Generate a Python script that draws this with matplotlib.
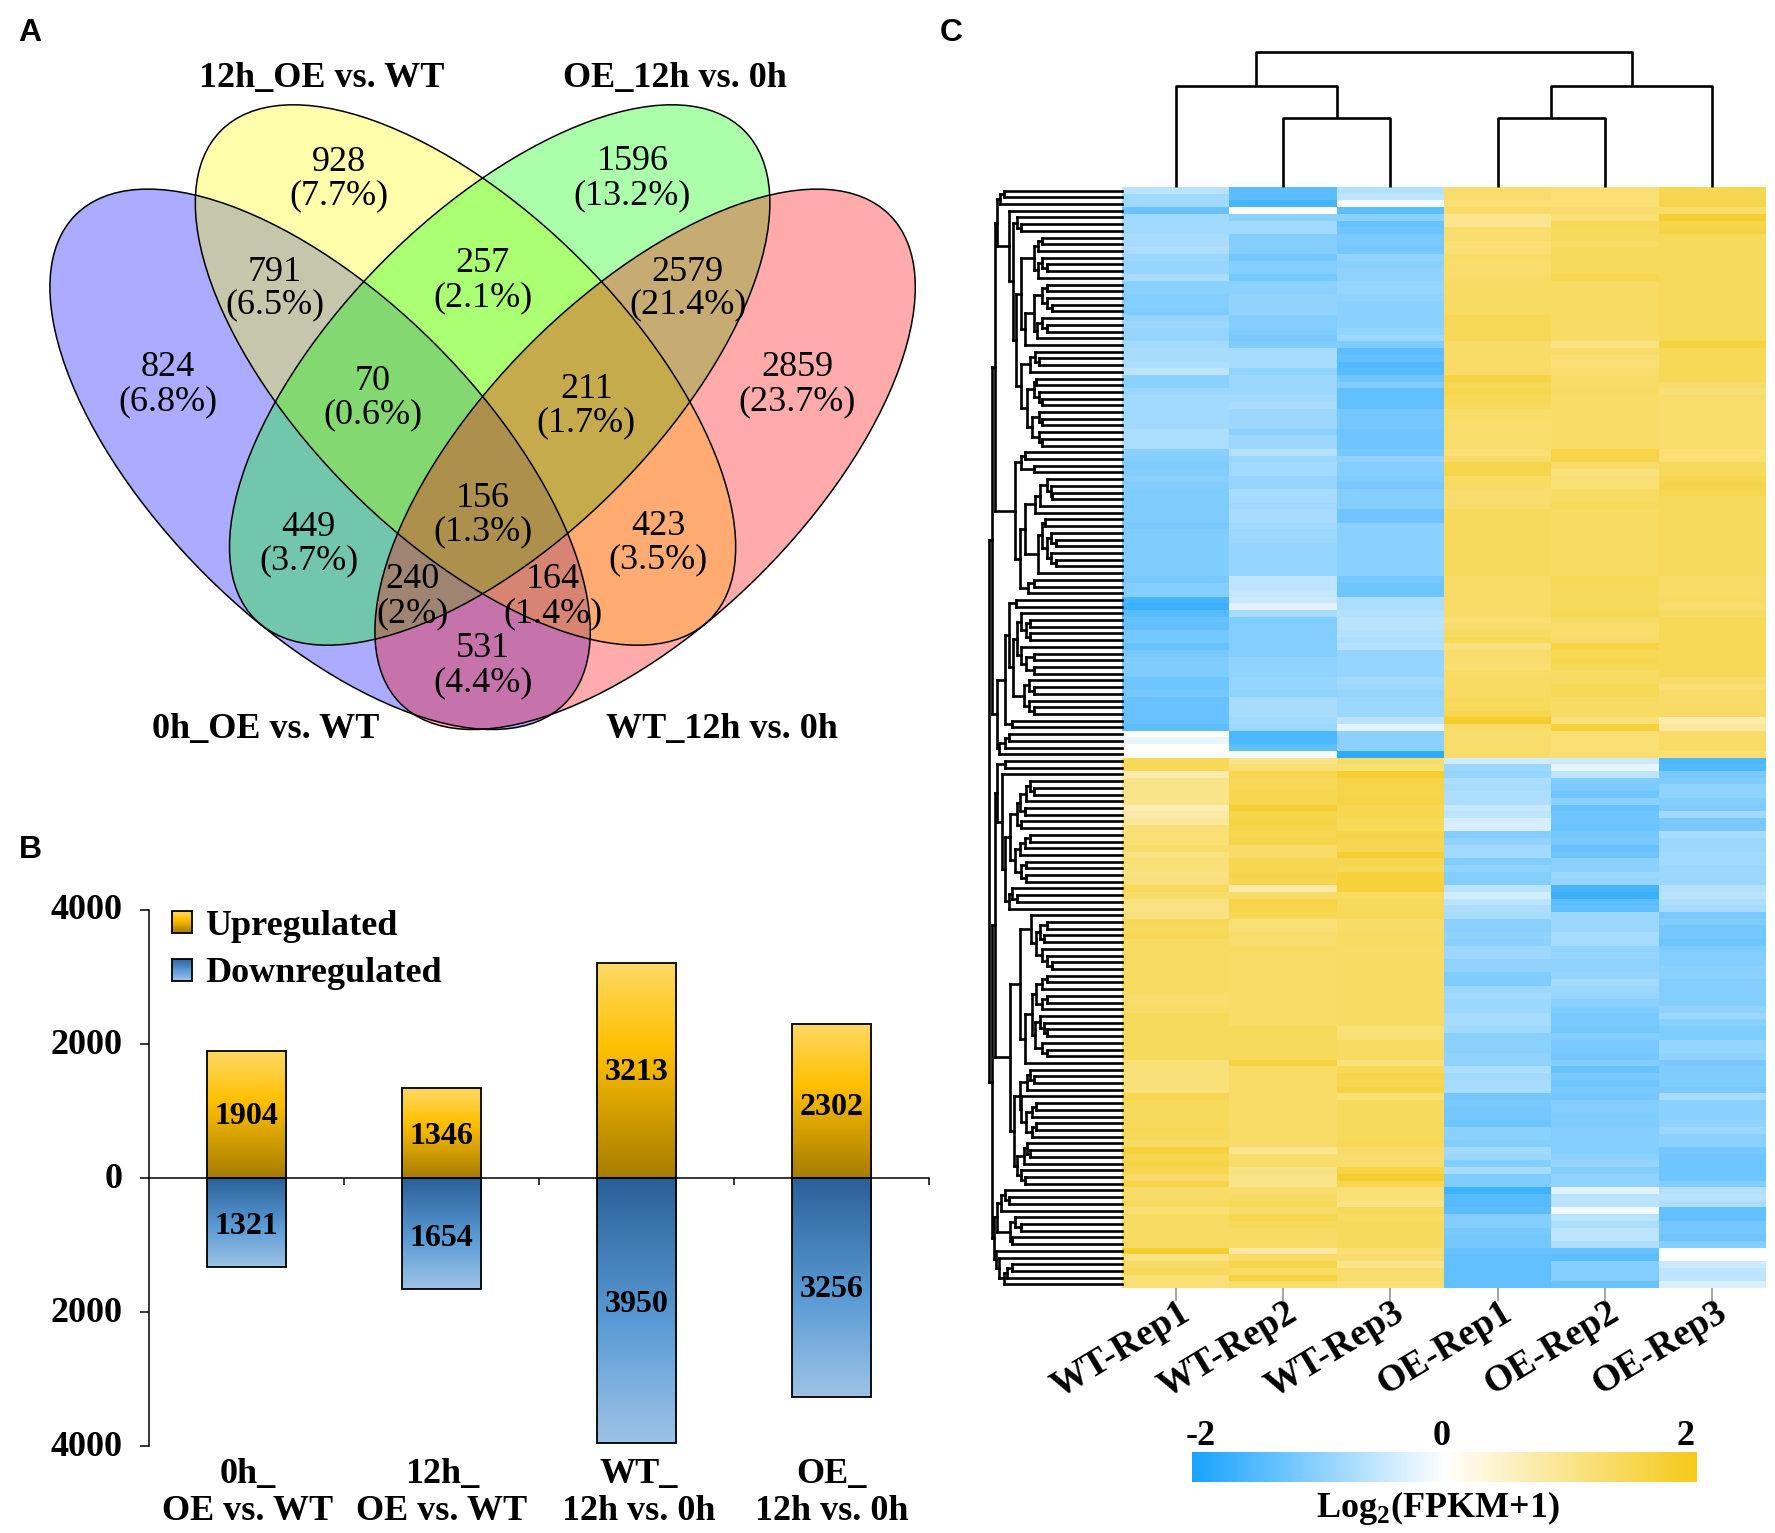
import numpy as np
import matplotlib
matplotlib.use('Agg')
import matplotlib.pyplot as plt
from matplotlib.patches import Ellipse, Rectangle, Patch
from matplotlib.collections import LineCollection
from matplotlib.colors import LinearSegmentedColormap
from matplotlib.legend_handler import HandlerBase
from matplotlib.transforms import ScaledTranslation

W, H = 1775, 1533
SERIF = 'Liberation Serif'
SANS = 'Liberation Sans'
plt.rcParams['font.family'] = [SERIF, 'DejaVu Serif']
plt.rcParams['mathtext.fontset'] = 'custom'
plt.rcParams['mathtext.bf'] = SERIF + ':bold'
plt.rcParams['mathtext.rm'] = SERIF + ':bold'

# ---------- Data ----------
venn_counts = ['928', '1596', '791', '257', '2579', '824', '70', '211', '2859',
               '156', '449', '423', '240', '164', '531']
venn_pcts = ['(7.7%)', '(13.2%)', '(6.5%)', '(2.1%)', '(21.4%)', '(6.8%)', '(0.6%)', '(1.7%)',
             '(23.7%)', '(1.3%)', '(3.7%)', '(3.5%)', '(2%)', '(1.4%)', '(4.4%)']
venn_names = ['12h_OE vs. WT', 'OE_12h vs. 0h', '0h_OE vs. WT', 'WT_12h vs. 0h']

bar_groups = ['0h_\nOE vs. WT', '12h_\nOE vs. WT', 'WT_\n12h vs. 0h', 'OE_\n12h vs. 0h']
upregulated = [1904, 1346, 3213, 2302]
downregulated = [1321, 1654, 3950, 3256]

samples = ['WT-Rep1', 'WT-Rep2', 'WT-Rep3', 'OE-Rep1', 'OE-Rep2', 'OE-Rep3']

wt_rep1 = [
 -.6,-.8,-.8,-1.3,-.8,-.8,-.8,-.75,-.75,-.7,
 -.85,-.9,-.9,-.75,-1,-1,-1.05,-1.05,-1.1,-.9,
 -.85,-.9,-.9,-.8,-.75,-.75,-.7,-.55,-1,-1,
 -.85,-.8,-.8,-.8,-.8,-.8,-.7,-.7,-.7,-1,
 -1.05,
 -1.1,-1.05,-1,-1.05,-1.1,-1.1,-1.1,-1.1,-1.1,-1.15,
 -1.1,-1.1,-1.1,-1.1,-1.1,-1.1,-1.1,-1.15,-1.05,-1.05,
 -1.6,-1.7,-1.45,-1.3,-1.35,-1.2,-1.2,-1.3,-1.15,-1.1,
 -1.1,-1.1,-1.25,-1.25,-1.2,-1.3,-1.3,-1.3,-1.3,-1.4,
 0,-.2,.02,.02,
 1.45,1.45,.7,1,1,1,1,.65,.75,.85,
 1.15,1.2,1.2,1.25,1.05,1.2,1.15,1.05,1.1,1.45,
 1.25,1.1,1.05,1.1,1.45,1.4,1.45,1.35,1.35,1.35,
 1.35,1.35,1.35,1.35,1.35,1.25,1.25,1.3,1.4,1.4,
 1.4,1.4,1.4,1.4,1.4,1.15,1.15,1.15,1.15,1.15,
 1.5,1.4,1.4,1.4,1.4,1.45,1.4,1.35,1.7,1.5,
 1.55,1.5,1.3,1.55,1.3,1.3,1.4,1.2,1.35,1.35,
 1.35,1.35,1.35,1.8,1.05,1.35,1.4,1.15,1.2]
wt_rep2 = [
 -1.4,-1.4,-1.6,.05,-1,-.8,-.8,-1.05,-1.05,-1.05,
 -1.2,-1.05,-1.05,-1.2,-1,-1,-.95,-.95,-.95,-1.05,
 -1.05,-1.1,-1.15,-1.1,-.75,-.75,-.75,-.95,-.85,-.85,
 -.85,-.8,-.75,-.85,-.85,-.85,-1,-.85,-.85,-.65,
 -.85,
 -.8,-.8,-.9,-.9,-.75,-.75,-.8,-.75,-.75,-.8,
 -.85,-.85,-.9,-.9,-.9,-.9,-.9,-.55,-.55,-.5,
 -.45,-.25,-.75,-1.1,-1.05,-1.05,-1.05,-1.05,-1.05,-.95,
 -.95,-.95,-.9,-.9,-.95,-.75,-.75,-.75,-.8,-.85,
 -1.55,-1.55,-1.35,-.05,
 1,1.2,1.5,1.45,1.45,1.5,1.5,1.75,1.55,1.6,
 1.55,1.5,1.55,1.3,1.3,1.5,1.5,1.55,1.5,.75,
 1.3,1.6,1.55,1.45,1.2,1.2,1.25,1.25,1.35,1.3,
 1.3,1.3,1.3,1.3,1.3,1.3,1.3,1.3,1.3,1.3,
 1.4,1.4,1.4,1.4,1.4,1.65,1.3,1.3,1.3,1.3,
 1.3,1.3,1.3,1.3,1.3,1.3,1.3,1.3,.95,1.25,
 1.3,1.05,1,1,1.25,1.35,1.45,1.3,1.5,1.4,
 1.35,1.35,1.3,.8,1.3,1.55,1.35,1.65,1.25]
wt_rep3 = [
 -.65,-.55,-.05,-1.4,-1,-1.3,-1.25,-1.15,-1.15,-1.2,
 -.95,-1,-.95,-.95,-.9,-.9,-.95,-1,-1,-1,
 -1,-.95,-.85,-1.1,-1.4,-1.35,-1.5,-1.45,-1.25,-1.1,
 -1.35,-1.35,-1.35,-1.2,-1.2,-1.2,-1.25,-1.25,-1.25,-1.2,
 -.95,
 -1.05,-1.05,-1.1,-1.15,-1.05,-1.05,-1.05,-1.25,-1.25,-1,
 -1,-1,-1,-1,-1,-1,-1,-1.2,-1.25,-1.25,
 -.7,-.7,-.65,-.6,-.6,-.65,-.7,-.65,-.9,-.9,
 -.9,-.9,-.8,-.85,-.9,-.85,-.85,-.85,-.6,-.25,
 -1,-1,-1,-1.8,
 1.3,1.2,1.75,1.55,1.55,1.55,1.6,1.5,1.5,1.45,
 1.45,1.55,1.5,1.5,1.75,1.5,1.45,1.7,1.7,1.7,
 1.35,1.4,1.4,1.45,1.3,1.3,1.35,1.35,1.3,1.35,
 1.35,1.35,1.35,1.35,1.35,1.35,1.35,1.35,1.35,1.35,
 1.15,1.2,1.35,1.35,1.35,1.1,1.45,1.55,1.5,1.6,
 1.2,1.4,1.4,1.4,1.4,1.4,1.4,1.45,1.3,1.25,
 1.25,1.6,1.8,1.5,1.2,1.2,1,1.4,1.35,1.4,
 1.4,1.4,1.4,1.2,1.25,1,1.25,1.25,1.2]
oe_rep1 = [
 1.25,1.25,1.15,1.3,.95,.95,1.25,1.25,1.2,1.2,
 1.3,1.25,1.25,1.3,1.35,1.35,1.35,1.35,1.35,1.45,
 1.45,1.45,1.45,1.3,1.3,1.3,1.3,1.3,1.6,1.45,
 1.5,1.45,1.4,1.3,1.3,1.25,1.25,1.25,1.25,1.2,
 1.3,
 1.55,1.55,1.35,1.35,1.25,1.25,1.25,1.4,1.4,1.4,
 1.4,1.4,1.4,1.4,1.4,1.4,1.4,1.3,1.3,1.3,
 1.3,1.3,1.3,1.2,1.25,1.35,1.45,1.1,1.25,1.25,
 1.2,1.3,1.35,1.35,1.35,1.4,1.4,1.5,1.8,1.3,
 1.25,1.25,1.25,1.25,
 -.4,-.85,-.9,-.7,-.75,-.7,-.7,-.5,-.55,-.35,
 -.35,-1.05,-.95,-.8,-.8,-1.1,-.95,-1.05,-1.05,-.6,
 -.4,-.6,-.7,-.75,-1,-1,-.95,-1,-.85,-.85,
 -.95,-.95,-1.1,-1.1,-.85,-.8,-.85,-.85,-.75,-.75,
 -.8,-1,-1,-1,-.95,-.95,-.7,-.8,-.75,-.75,
 -1.2,-1.15,-1.2,-1.2,-1.25,-1,-1,-1.05,-.8,-.85,
 -1.05,-.75,-1.1,-1.1,-1.65,-1.45,-1.45,-1.4,-1.05,-1.05,
 -1.15,-1.2,-1.2,-1.3,-1.35,-1.35,-1.35,-1.35,-1.35]
oe_rep2 = [
 1.2,1.2,1.2,1.25,1.2,1.45,1.4,1.4,1.3,1.4,
 1.4,1.4,1.4,1.5,1.35,1.35,1.35,1.35,1.35,1.35,
 1.35,1.35,1.3,1.05,1.3,1.2,1.2,1.25,1.3,1.3,
 1.35,1.3,1.3,1.3,1.3,1.3,1.3,1.3,1.3,1.6,
 1.55,
 1.3,1.1,1.2,1.2,1.35,1.35,1.4,1.35,1.35,1.35,
 1.35,1.35,1.35,1.35,1.35,1.35,1.35,1.45,1.4,1.4,
 1.4,1.4,1.45,1.35,1.25,1.25,1.3,1.6,1.45,1.5,
 1.45,1.35,1.35,1.45,1.45,1.35,1.35,1.3,1.15,1.7,
 1.2,1.2,1.2,1.2,
 -.45,-.2,-.55,-1.1,-1.15,-1.25,-1,-1.3,-1.25,-1.25,
 -1.3,-1.2,-1.15,-1.3,-1.25,-1,-1,-.85,-.9,-1.6,
 -1.7,-1.4,-1.35,-.85,-.85,-.85,-.75,-.75,-.95,-.9,
 -.95,-.95,-.9,-.8,-.85,-.9,-1,-1.1,-1.15,-1.15,
 -1.2,-1.05,-1.15,-1.15,-1.2,-1.05,-1.3,-1.15,-1.25,-1.15,
 -1.2,-1.05,-1.05,-1.1,-1.1,-1.05,-1.05,-1.05,-1.05,-1,
 -.9,-1.05,-.95,-.95,-.25,-.6,-.6,-.1,-.6,-.7,
 -.55,-.55,-.7,-1.3,-1.4,-1.05,-1.05,-1.05,-1.3]
oe_rep3 = [
 1.5,1.5,1.55,1.25,1.75,1.55,1.6,1.4,1.4,1.4,
 1.4,1.4,1.4,1.4,1.4,1.4,1.4,1.4,1.4,1.4,
 1.4,1.4,1.4,1.65,1.45,1.45,1.45,1.45,1.45,1.25,
 1.2,1.25,1.25,1.25,1.25,1.25,1.25,1.25,1.25,1.2,
 1.2,
 1.4,1.4,1.5,1.55,1.5,1.4,1.4,1.4,1.4,1.4,
 1.4,1.4,1.4,1.4,1.4,1.4,1.4,1.3,1.3,1.3,
 1.35,1.25,1.35,1.45,1.45,1.45,1.45,1.45,1.45,1.45,
 1.45,1.45,1.3,1.2,1.3,1.3,1.35,1.35,.7,.85,
 1.3,1.3,1.3,1.2,
 -1.55,-1.5,-1.15,-1.1,-.95,-.95,-1.05,-1.1,-.8,-1.15,
 -1.15,-.75,-.85,-.85,-.8,-.8,-.85,-.85,-.85,-.65,
 -.6,-.7,-.75,-1.15,-1.1,-1.2,-1.2,-1.25,-1.1,-1.05,
 -1.05,-1,-1,-1.05,-1.05,-1.05,-1.05,-.95,-.85,-1,
 -1.1,-1.1,-.9,-.9,-.95,-1.15,-1.1,-1.1,-1.1,-1.15,
 -.75,-1,-1,-1,-.95,-.85,-1,-1,-1.2,-1.25,
 -1.25,-1.25,-1.25,-1.05,-.65,-.6,-.7,-1.35,-1.35,-1.2,
 -1.2,-1.25,-1.05,.03,.03,-.45,-.55,-.55,-.3]

# Row dendrogram: [merge depth, child, child]; 0 is a leaf (one heatmap row)
g1 = [20, [28, 0, 0], 0]
b1 = [88, [97, [105, 0, 0], 0], [97, [105, 0, [115, 0, 0]], 0]]
b2 = [70, [88, [105, [115, 0, 0], [115, 0, [125, 0, 0]]], [95, [105, 0, [115, 0, 0]], 0]], 0]
d1 = [62, [80, [90, 0, [98, 0, 0]], 0],
      [75, [88, [92, 0, 0], [98, 0, [105, 0, 0]]], [85, [98, 0, [105, 0, 0]], [98, 0, [105, 0, 0]]]]]
g3 = [52, [62, b1, b2], d1]
g2 = [38, 0, [47, [55, 0, [62, 0, 0]], g3]]
x1 = [14, g1, g2]
h1 = [62, [70, 0, 0], [88, 0, 0]]
i1 = [100, [115, 0, [122, 0, [125, 0, 0]]], 0]
j1 = [90, i1, 0]
k1 = [97, [105, [110, 0, 0], [115, [122, 0, [132, 0, 0]], [122, 0, [132, 0, 0]]]], 0]
l1 = [70, j1, k1]
m1 = [76, [88, 0, 0], 0]
y1 = [50, h1, [60, l1, m1]]
s1 = [62, 0, [72, [80, 0, 0], [80, 0, 0]]]
s2 = [62, 0, [72, [88, 0, 0], [88, 0, 0]]]
s3 = [68, [78, 0, [88, 0, 0]], [78, 0, [88, 0, 0]]]
t1 = [47, [55, s1, s2], s3]
u1 = [38, [52, 0, 0], t1]
v1 = [30, u1, [45, 0, 0]]
w1 = [18, [30, [38, 0, 0], 0], 0]
upper_tree = [4, [10, x1, y1], [14, v1, w1]]

a1 = [72, [80, 0, [88, 0, 0]], 0]
e1 = [55, [60, a1, [70, 0, 0]], [62, 0, 0]]
b3 = [60, [70, [80, 0, 0], 0], 0]
c3 = [62, [72, 0, 0], [72, 0, 0]]
e2 = [40, e1, [50, b3, c3]]
f3 = [38, [45, 0, [55, 0, 0]], 0]
h3 = [25, 0, [30, e2, f3]]
i3 = [15, [30, 0, 0], h3]
k3 = [100, [115, 0, 0], [108, 0, 0]]
k4 = [105, 0, [115, 0, [125, 0, 0]]]
m3 = [82, 0, [92, k3, k4]]
p3 = [92, [105, [115, 0, 0], 0], [105, [115, 0, 0], 0]]
s4 = [90, [100, 0, [108, 0, [115, 0, 0]]], [105, 0, [115, 0, 0]]]
t3 = [70, [85, p3, s4], 0]
u3 = [75, [80, 0, [88, 0, 0]], 0]
v3 = [62, 0, [72, [85, [92, 0, 0], 0], [85, [92, 0, 0], 0]]]
y3 = [55, [68, [75, 0, [80, 0, 0]], 0], [62, 0, [70, 0, 0]]]
z3 = [48, [60, u3, v3], y3]
aa = [40, [60, m3, t3], z3]
bb = [22, [30, 0, [38, 0, 0]], 0]
cc = [40, [50, 0, [62, 0, 0]], [45, 0, 0]]
ee = [12, 0, [18, 0, [28, [35, [45, 0, 0], 0], 0]]]
lower_tree = [4, [10, i3, aa], [8, [15, bb, cc], ee]]
row_tree = [-2, upper_tree, lower_tree]

# Column dendrogram: heights above the heatmap
col_merge_heights = [135, 101, 69]

# ---------- Helpers ----------
def px_axes(x0, y0, x1, y1, **kw):
    return fig.add_axes([x0 / W, 1 - y1 / H, (x1 - x0) / W, (y1 - y0) / H], **kw)

fig = plt.figure(figsize=(W / 100, H / 100), dpi=100, facecolor='white')

canvas = px_axes(0, 0, W, H)
canvas.set_xlim(0, W)
canvas.set_ylim(H, 0)
canvas.axis('off')

# ---------- Panel letters ----------
for letter, lx, ly in [('A', 30, 33), ('B', 30, 850), ('C', 951, 33)]:
    canvas.text(lx, ly, letter, family=SANS, weight='bold', fontsize=23, ha='center', va='center')

# ---------- Panel A: Venn ----------
ell_a, ell_b = 2 * 345.7, 2 * 162.8
ell_specs = [((320.1, 459.3), 45, '#0000FF'),
             ((465.5, 375.0), 45, '#FFFF00'),
             ((499.7, 375.0), -45, '#00FF00'),
             ((645.1, 459.3), -45, '#FF0000')]
for c, ang, col in ell_specs:
    canvas.add_patch(Ellipse(c, ell_a, ell_b, angle=ang, facecolor=col, alpha=0.33, edgecolor='none'))
for c, ang, col in ell_specs:
    canvas.add_patch(Ellipse(c, ell_a, ell_b, angle=ang, facecolor='none', edgecolor='black', lw=1.1))

zx, zy = 1.668, 2.063
venn_xy = [(565, 330, 398), (1055, 328, 398), (458, 555, 622), (805, 538, 608), (1147, 555, 622),
           (280, 752, 822), (622, 780, 850), (978, 797, 867), (1330, 752, 822), (805, 1022, 1092),
           (515, 1082, 1150), (1098, 1080, 1148), (688, 1190, 1260), (922, 1190, 1260), (805, 1332, 1402)]
for n, p, (x, y1_, y2_) in zip(venn_counts, venn_pcts, venn_xy):
    canvas.text(x / zx, y1_ / zy + 3, n, fontsize=26, ha='center', va='center')
    canvas.text(x / zx, y2_ / zy + 3, p, fontsize=26, ha='center', va='center')
for name, (x, y) in zip(venn_names, [(537, 157), (1125, 157), (443, 1500), (1205, 1500)]):
    canvas.text(x / zx, y / zy + 2, name, fontsize=26, weight='bold', ha='center', va='center')

# ---------- Panel B: bars ----------
axb = px_axes(148.5, 910, 929, 1446.4)
axb.patch.set_alpha(0)
xs = np.arange(4) + 0.5
bar_w = 0.405
up_cmap = LinearSegmentedColormap.from_list('up', [(0, '#FFD966'), (0.4, '#FFC000'), (1, '#A67C00')])
dn_cmap = LinearSegmentedColormap.from_list('dn', [(0, '#2A6099'), (0.55, '#5B9BD5'), (1, '#9DC3E6')])
grad = np.linspace(0, 1, 256).reshape(-1, 1)
for x, u, d in zip(xs, upregulated, downregulated):
    axb.imshow(grad, cmap=up_cmap, extent=(x - bar_w / 2, x + bar_w / 2, 0, u), aspect='auto', zorder=1)
    axb.imshow(grad, cmap=dn_cmap, extent=(x - bar_w / 2, x + bar_w / 2, -d, 0), aspect='auto', zorder=1)
axb.bar(xs, upregulated, bar_w, facecolor='none', edgecolor='black', lw=1.3, zorder=2)
axb.bar(xs, [-v for v in downregulated], bar_w, facecolor='none', edgecolor='black', lw=1.3, zorder=2)
up_label_y = [925, 620, 1576, 1047]
dn_label_y = [717, 893, 1884, 1653]
for x, u, ly in zip(xs, upregulated, up_label_y):
    axb.text(x, ly, str(u), fontsize=23, weight='bold', ha='center', va='center', zorder=3)
for x, d, ly in zip(xs, downregulated, dn_label_y):
    axb.text(x, -ly, str(d), fontsize=23, weight='bold', ha='center', va='center', zorder=3)
axb.set_xlim(0, 4)
axb.set_ylim(-4000, 4000)
for s in ['top', 'right']:
    axb.spines[s].set_visible(False)
axb.spines['bottom'].set_position(('data', 0))
axb.spines['bottom'].set_zorder(4)
axb.spines['left'].set_linewidth(1.1)
axb.spines['bottom'].set_linewidth(1.1)
axb.set_yticks([-4000, -2000, 0, 2000, 4000])
axb.set_yticklabels(['4000', '2000', '0', '2000', '4000'], fontsize=26, weight='bold')
axb.tick_params(axis='y', length=6.5, width=1.1, pad=12)
for lbl in axb.get_yticklabels():
    lbl.set_transform(lbl.get_transform() + ScaledTranslation(0, 2.2 / 72, fig.dpi_scale_trans))
axb.set_xticks([1, 2, 3, 4])
axb.set_xticklabels([])
axb.tick_params(axis='x', length=5, width=1.1, direction='out')
for x, lab in zip([0.51, 1.504, 2.514, 3.50], bar_groups):
    top, bottom = lab.split('\n')
    canvas_x = 148.5 + x * (929 - 148.5) / 4
    canvas.text(canvas_x, 1475, top, fontsize=26, weight='bold', ha='center', va='center')
    canvas.text(canvas_x, 1512, bottom, fontsize=26, weight='bold', ha='center', va='center')

class GradientHandler(HandlerBase):
    def __init__(self, cmap):
        super().__init__()
        self.cmap = cmap
    def create_artists(self, legend, orig, xd, yd, width, height, fontsize, trans):
        arts = []
        n = 24
        for i in range(n):
            arts.append(Rectangle((-xd, -yd + height * (1 - (i + 1) / n)), width, height / n + 0.2,
                                  facecolor=self.cmap((i + .5) / n), edgecolor='none', transform=trans))
        arts.append(Rectangle((-xd, -yd), width, height, facecolor='none', edgecolor='black', lw=1.3, transform=trans))
        return arts

h_up = Patch(facecolor='#FFC000', edgecolor='black', label='Upregulated')
h_dn = Patch(facecolor='#5B9BD5', edgecolor='black', label='Downregulated')
leg = axb.legend(handles=[h_up, h_dn], handler_map={h_up: GradientHandler(up_cmap), h_dn: GradientHandler(dn_cmap)},
                 loc='upper left', bbox_to_anchor=(172 / W, 1 - 910 / H), bbox_transform=fig.transFigure,
                 frameon=False, borderpad=0, borderaxespad=0, handlelength=0.55, handleheight=0.55,
                 handletextpad=0.38, labelspacing=0.40, prop={'family': SERIF, 'weight': 'bold', 'size': 26})

# ---------- Panel C: heatmap ----------
hm_x0, hm_x1, hm_y0, hm_y1 = 1122.2, 1766, 187.3, 1287.7
matrix = np.array([wt_rep1, wt_rep2, wt_rep3, oe_rep1, oe_rep2, oe_rep3]).T
n_rows, n_cols = matrix.shape
heat_cmap = LinearSegmentedColormap.from_list('heat', ['#18A3FF', '#FFFFFF', '#F5CA18'])
axh = px_axes(hm_x0, hm_y0, hm_x1, hm_y1)
axh.imshow(matrix, cmap=heat_cmap, vmin=-2, vmax=2, aspect='auto', interpolation='nearest')
for s in axh.spines.values():
    s.set_visible(False)
axh.set_yticks([])
axh.set_xticks(range(n_cols))
axh.set_xticklabels([])
axh.tick_params(axis='x', length=9, width=1.1, color='#8a8a8a')
col_w = (hm_x1 - hm_x0) / n_cols
centers = [hm_x0 + (i + .5) * col_w for i in range(n_cols)]
for c, s in zip(centers, samples):
    canvas.text(c + 2, 1295, s, fontsize=27, weight='bold', rotation=31,
                ha='right', va='top', rotation_mode='anchor')

# row dendrogram
segs = []
row_h = (hm_y1 - hm_y0) / n_rows
counter = [0]
def tx(v):
    return 990 + v / 2.01
def walk(node):
    if node == 0:
        y = hm_y0 + (counter[0] + .5) * row_h
        counter[0] += 1
        return hm_x0, y
    x = tx(node[0])
    ys = []
    for child in node[1:]:
        cx, cy = walk(child)
        segs.append([(x, cy), (cx, cy)])
        ys.append(cy)
    segs.append([(x, ys[0]), (x, ys[-1])])
    return x, (ys[0] + ys[-1]) / 2
walk(row_tree)
canvas.add_collection(LineCollection(segs, colors='black', linewidths=1.9, capstyle='projecting'))

# column dendrogram
h_root, h_mid, h_low = col_merge_heights
c = centers
def yh(h):
    return hm_y0 - h
col_segs = []
def bracket(xa, ha, xb, hb, h):
    col_segs.append([(xa, yh(ha)), (xa, yh(h)), (xb, yh(h)), (xb, yh(hb))])
bracket(c[1], 0, c[2], 0, h_low)
lm = (c[1] + c[2]) / 2
bracket(c[0], 0, lm, h_low, h_mid)
l2 = (c[0] + lm) / 2
bracket(c[3], 0, c[4], 0, h_low)
rm = (c[3] + c[4]) / 2
bracket(rm, h_low, c[5], 0, h_mid)
r2 = (rm + c[5]) / 2
bracket(l2, h_mid, r2, h_mid, h_root)
canvas.add_collection(LineCollection(col_segs, colors='black', linewidths=1.9))

# colour bar
axc = px_axes(1192.3, 1452, 1696.5, 1482)
axc.imshow(np.linspace(-2, 2, 512).reshape(1, -1), cmap=heat_cmap, vmin=-2, vmax=2, aspect='auto')
axc.axis('off')
for lab, x in [('-2', 1200.6), ('0', 1441.8), ('2', 1686)]:
    canvas.text(x, 1436.5, lab, fontsize=26, weight='bold', ha='center', va='center')
canvas.text(1438, 1508, r'Log$_{\mathbf{2}}$(FPKM+1)', fontsize=26, weight='bold', ha='center', va='center')

canvas.set_zorder(5)
fig.savefig('out.png', dpi=100)
